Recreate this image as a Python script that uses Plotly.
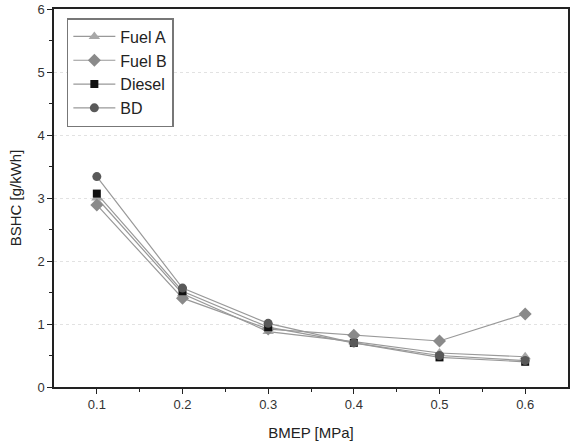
import plotly.graph_objects as go

# BMEP [MPa]
bmep = [0.1, 0.2, 0.3, 0.4, 0.5, 0.6]

# BSHC [g/kWh]
fuel_a = [3.00, 1.48, 0.88, 0.72, 0.54, 0.48]
fuel_b = [2.89, 1.41, 0.92, 0.82, 0.73, 1.16]
diesel = [3.07, 1.52, 0.95, 0.70, 0.47, 0.40]
bd = [3.34, 1.57, 1.01, 0.70, 0.50, 0.42]

series = [
    ("Fuel A", fuel_a, "triangle-up", "#a8a8a8", 10),
    ("Fuel B", fuel_b, "diamond", "#8a8a8a", 10),
    ("Diesel", diesel, "square", "#111111", 8),
    ("BD", bd, "circle", "#595959", 9),
]

fig = go.Figure()
for name, vals, sym, col, sz in series:
    fig.add_trace(go.Scatter(
        x=bmep, y=vals, mode="lines+markers", name=name,
        line=dict(color="#999999", width=1.2),
        marker=dict(symbol=sym, color=col, size=sz),
    ))

axis_common = dict(
    showline=True, linecolor="#222222", linewidth=1.5, mirror=True,
    ticks="outside", ticklen=5, tickcolor="#222222",
    tickfont=dict(family="Liberation Sans, Arial", size=13, color="#333333"),
    zeroline=False, automargin=False,
)

fig.update_layout(
    width=577, height=441,
    margin=dict(l=54, r=9, t=9, b=54),
    paper_bgcolor="white", plot_bgcolor="white",
    font=dict(family="Liberation Sans, Arial", color="#222222"),
    showlegend=True,
    legend=dict(
        x=0.025, y=0.976, xanchor="left", yanchor="top",
        bordercolor="#777777", borderwidth=1.5, bgcolor="white",
        font=dict(size=16, color="#222222"),
        tracegroupgap=0, itemwidth=42,
    ),
)

fig.update_xaxes(
    **axis_common,
    range=[0.05, 0.65], tickvals=bmep, ticktext=["0.1", "0.2", "0.3", "0.4", "0.5", "0.6"],
    showgrid=False,
    minor=dict(tickvals=[0.15, 0.25, 0.35, 0.45, 0.55], ticks="outside", ticklen=3, tickcolor="#222222"),
    title=dict(text="BMEP [MPa]", font=dict(size=15), standoff=20),
)
fig.update_yaxes(
    **axis_common,
    range=[0, 6], dtick=1,
    showgrid=True, gridcolor="#e2e2e2", griddash="dot", gridwidth=1,
    minor=dict(dtick=0.5, ticks="outside", ticklen=3, tickcolor="#222222", showgrid=False),
    title=dict(text="BSHC [g/kWh]", font=dict(size=15), standoff=12),
)

# убрать отступ body, чтобы график начинался с (0, 0)
fig.write_html("out.html", config={"displayModeBar": False},
               post_script="document.body.style.margin='0px';")
